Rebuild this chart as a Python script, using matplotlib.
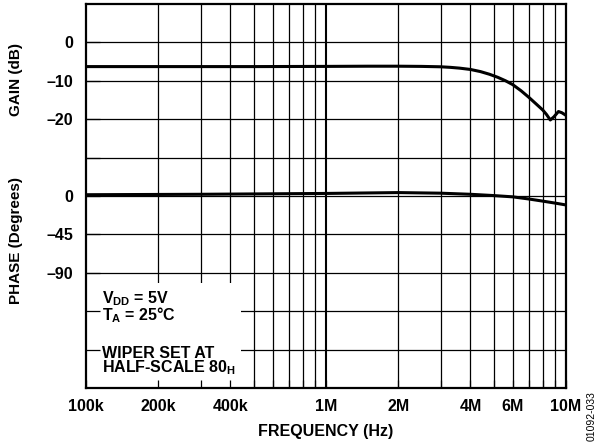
import numpy as np
import matplotlib.pyplot as plt
from matplotlib.patches import Rectangle

plt.rcParams['font.family'] = ['Liberation Sans', 'DejaVu Sans']
plt.rcParams['font.weight'] = 'bold'
plt.rcParams['mathtext.fontset'] = 'custom'
plt.rcParams['mathtext.rm'] = 'Liberation Sans:bold'
plt.rcParams['mathtext.bf'] = 'Liberation Sans:bold'
plt.rcParams['mathtext.default'] = 'bf'

# gain curve (dB)
gain_freq = [1e5, 2e5, 5e5, 1e6, 1.5e6, 2e6, 2.5e6, 3e6, 3.3e6, 3.6e6, 4e6, 4.4e6,
             4.8e6, 5.2e6, 5.6e6, 6e6, 6.5e6, 7e6, 7.5e6, 8e6, 8.3e6, 8.6e6, 8.9e6,
             9.3e6, 9.6e6, 1e7]
gain_db = [-6.3, -6.3, -6.3, -6.25, -6.2, -6.2, -6.25, -6.35, -6.5, -6.7, -7.05, -7.6,
           -8.3, -9.1, -10.0, -11.0, -12.6, -14.3, -16.0, -17.6, -18.8, -20.2, -19.4,
           -18.0, -18.3, -19.0]

# phase curve (degrees)
phase_freq = [1e5, 3e5, 1e6, 2e6, 3e6, 4e6, 5e6, 6e6, 7e6, 8e6, 9e6, 1e7]
phase_deg = [1.5, 2.0, 3.0, 4.0, 3.3, 2.0, 0.5, -1.0, -3.5, -6.0, -8.3, -10.5]

# both curves share one 0..10 grid: gain 0 dB on line 9, phase 0 deg on line 5
gain_u = [9 + g / 10.0 for g in gain_db]
phase_u = [5 + p / 45.0 for p in phase_deg]

xtick_pos = [k * 10 ** e for e in (5, 6) for k in range(1, 10)] + [1e7]
xtick_lab = {1e5: '100k', 2e5: '200k', 4e5: '400k', 1e6: '1M', 2e6: '2M',
             4e6: '4M', 6e6: '6M', 1e7: '10M'}
ytick_lab = {9: '0', 8: '–10', 7: '–20', 5: '0', 4: '–45', 3: '–90'}

fig = plt.figure(figsize=(5.99, 4.44), dpi=100)
ax = fig.add_axes([86 / 599, 56 / 444, 480 / 599, 384 / 444])
ax.set_xscale('log')
ax.set_xlim(1e5, 1e7)
ax.set_ylim(0, 10)

# grid drawn by hand so the note box can cover it
for x in xtick_pos[1:-1]:
    ax.axvline(x, color='black', lw=1.5 if x == 1e6 else 0.9, zorder=1)
for u in range(1, 10):
    ax.axhline(u, color='black', lw=0.9, zorder=1)

ax.add_patch(Rectangle((0, 0), 0.323, 0.273, transform=ax.transAxes,
                       facecolor='white', edgecolor='none', zorder=1.5))

ax.plot(gain_freq, gain_u, color='black', lw=2.2, zorder=3)
ax.plot(phase_freq, phase_u, color='black', lw=2.2, zorder=3)

ax.set_axisbelow(False)
ax.set_xticks(xtick_pos)
ax.set_xticklabels([xtick_lab.get(x, '') for x in xtick_pos])
ax.xaxis.set_minor_locator(plt.NullLocator())
ax.set_yticks(range(1, 10))
ax.set_yticklabels([ytick_lab.get(u, '') for u in range(1, 10)])
ax.tick_params(axis='x', direction='in', length=6, width=0.9, labelsize=11.5, pad=8)
ax.tick_params(axis='y', direction='in', length=10, width=0.9, labelsize=11.5, pad=9)
for s in ax.spines.values():
    s.set_linewidth(1.6)

ax.set_xlabel('FREQUENCY (Hz)', fontsize=11.5, fontweight='bold', labelpad=7)

fig.text(16 / 599, 1 - 80 / 444, 'GAIN (dB)', rotation=90, ha='center', va='center',
         fontsize=11, fontweight='bold')
fig.text(16 / 599, 1 - 240 / 444, 'PHASE (Degrees)', rotation=90, ha='center', va='center',
         fontsize=11, fontweight='bold')

# va='baseline' on a two-line text pins the last line's baseline
note_kw = dict(fontsize=11.5, fontweight='bold', ha='left', va='baseline',
               linespacing=0.8, zorder=5)
fig.text(102 / 599, 1 - 320 / 444, '$V_{DD}$ = 5V\n$T_{A}$ = 25°C', **note_kw)
fig.text(102 / 599, 1 - 372 / 444, 'WIPER SET AT\nHALF-SCALE 80$_{H}$', **note_kw)

fig.text(592 / 599, 1 - 441 / 444, '01092-033', rotation=90, ha='center', va='bottom',
         fontsize=7.5, fontweight='normal')

fig.savefig('out.png', dpi=100)
